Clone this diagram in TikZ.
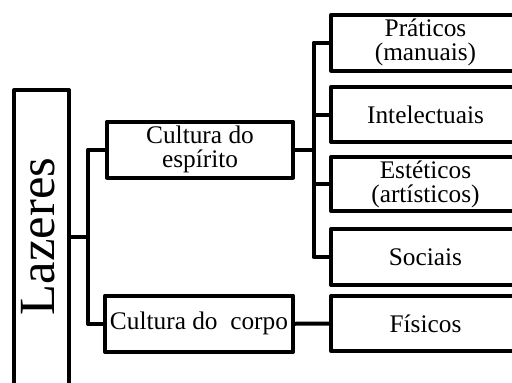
\documentclass[tikz,border=0pt]{standalone}
\usepackage{fontspec}
\setmainfont{Liberation Serif}
\begin{document}
\begin{tikzpicture}[x=0.75pt,y=-0.75pt,
  box/.style={draw, line width=3pt, line join=round, inner sep=0pt, align=center,
    font=\fontsize{19}{18}\selectfont},
  conn/.style={line width=3pt, line join=round, line cap=rect}]
\useasboundingbox (0,0) rectangle (512,383);
\clip (0,0) rectangle (512,383);
% Lazeres
\node[box, minimum width=55*0.75pt, minimum height=330*0.75pt] (laz) at (41.5,255) {};
\node[rotate=90, anchor=base, inner sep=0pt, font=\fontsize{38}{38}\selectfont] (lazt) at (55,236.5) {Lazeres};
% second level
\node[box, minimum width=186*0.75pt, minimum height=56*0.75pt] (esp) at (200,149.5) {Cultura do\\espírito};
\node[box, minimum width=188*0.75pt, minimum height=56.5*0.75pt] (corp) at (199,323.75) {Cultura do\ \ corpo};
% third level
\node[box, minimum width=189*0.75pt, minimum height=55.5*0.75pt] (prat) at (425.5,42.75) {Práticos\\(manuais)};
\node[box, minimum width=189*0.75pt, minimum height=55*0.75pt] (int) at (425.5,114.5) {Intelectuais};
\node[box, minimum width=189*0.75pt, minimum height=54*0.75pt] (est) at (425.5,184) {Estéticos\\(artísticos)};
\node[box, minimum width=189*0.75pt, minimum height=56*0.75pt] (soc) at (425.5,257) {Sociais};
\node[box, minimum width=189*0.75pt, minimum height=55*0.75pt] (fis) at (425.5,323.5) {Físicos};
% connectors
\coordinate (j0) at (88,236.5);
\coordinate (j1) at (313.5,149.5);
\draw[conn] (laz.east |- j0) -- (j0);
\draw[conn] (esp.west) -| (j0) |- (corp.west);
\draw[conn] (esp.east) -- (j1);
\draw[conn] (prat.west) -| (j1) |- (soc.west);
\draw[conn] (int.west) -- (int.west -| j1);
\draw[conn] (est.west) -- (est.west -| j1);
\draw[conn] (corp.east) -- (fis.west);
\end{tikzpicture}
\end{document}
